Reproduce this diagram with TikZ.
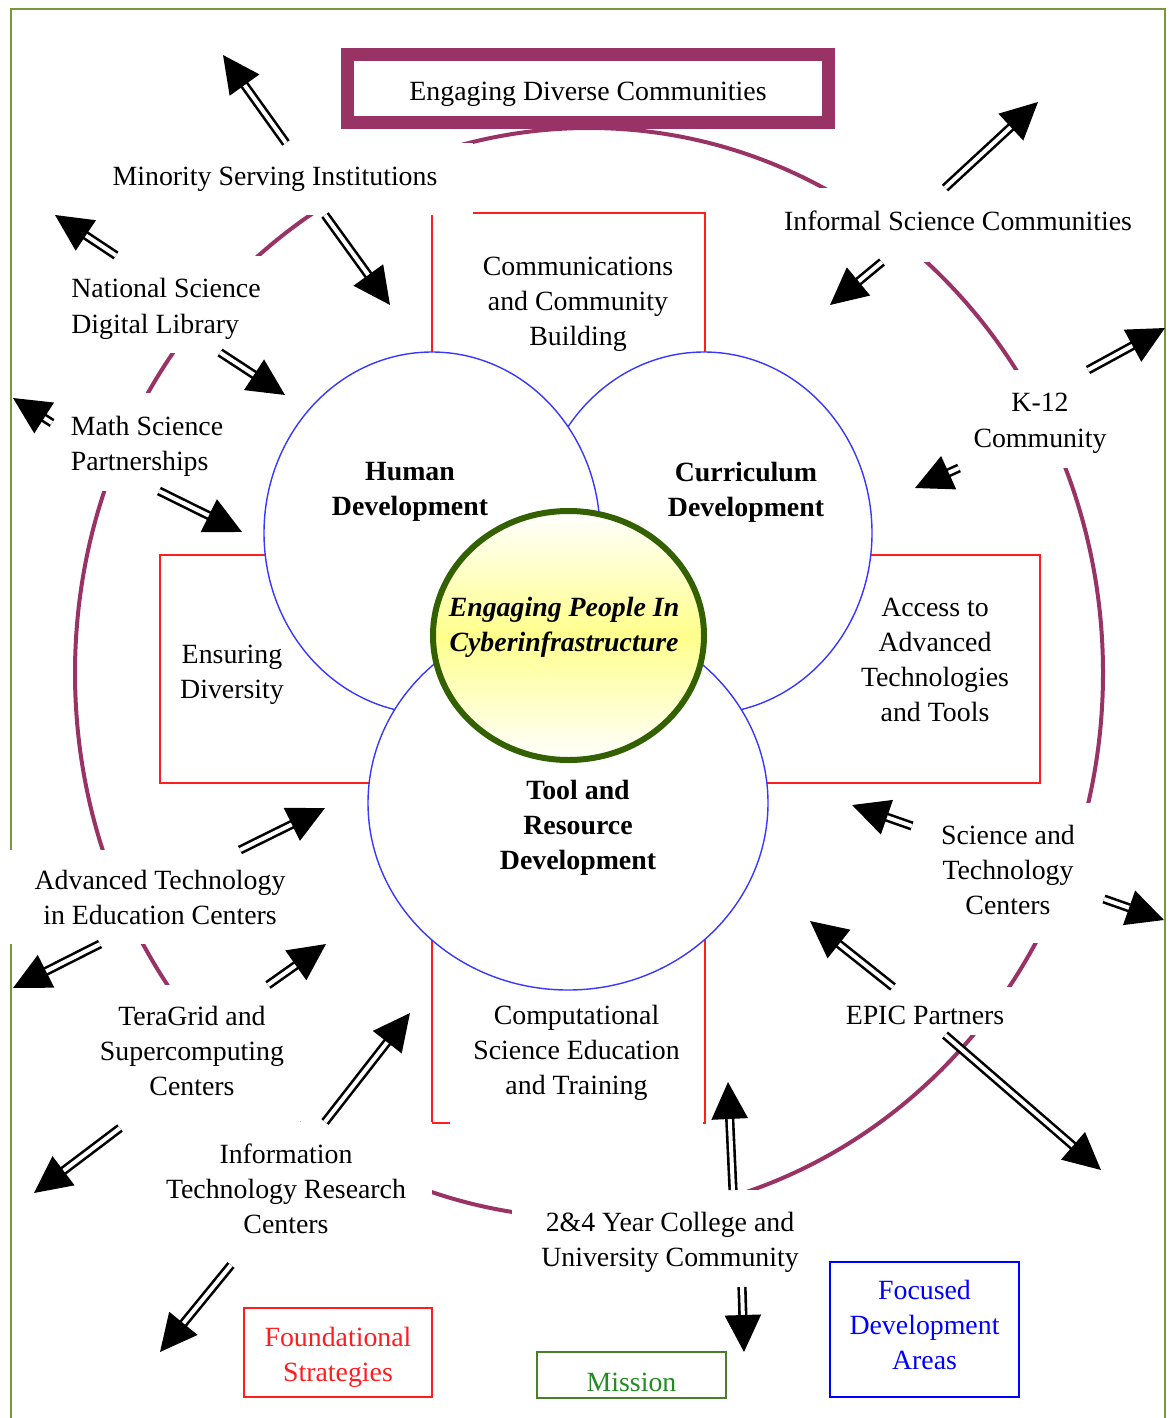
\documentclass[tikz,border=0pt]{standalone}
\usepackage{fontspec}
\setmainfont{Liberation Serif}
\usepackage{xcolor}
\usepackage{tikz}
\usetikzlibrary{shapes.geometric,arrows.meta,positioning,calc}
\definecolor{plum}{RGB}{153,51,102}
\definecolor{framegreen}{RGB}{119,150,62}
\definecolor{missiongreen}{RGB}{70,128,40}
\definecolor{misstext}{RGB}{34,139,34}
\definecolor{hubgreen}{RGB}{51,96,0}
\definecolor{hubyellow}{RGB}{255,255,140}
\definecolor{ringblue}{RGB}{55,55,255}
\definecolor{crossred}{RGB}{255,30,30}

\begin{document}
\begin{tikzpicture}[x=0.25mm,y=-0.25mm,
          every node/.style={font=\fontsize{19.8}{24.9}\selectfont,
                             inner sep=0pt,outer sep=0pt},
          wb/.style n args={2}{minimum width=#1*0.25mm,minimum height=#2*0.25mm},
          lbl/.style={fill=white,align=center},
          ring/.style={shape=ellipse,draw=ringblue,line width=0.35mm,fill=white},
          area/.style={font=\fontsize{19.8}{24.9}\selectfont\bfseries,align=center},
          leg/.style={draw,line width=0.5mm,align=center},
          dbl/.style={double=white,double distance=1mm,line width=0.65mm,
                      -{Triangle[length=9.25mm,width=9mm]}}]
        \useasboundingbox (0,0) rectangle (1168,1418);
        % frame
        \draw[framegreen,line width=0.5mm] (11,1418) -- (11,9) -- (1165,9) -- (1165,1418);
        % outer ring and cross
        \draw[plum,line width=1mm] (589,673) ellipse [x radius=514,y radius=545];
        \draw[crossred,line width=0.45mm] (432,213) -| (705,555) -| (1040,783)
              -| (705,1123) -| (432,783) -| (160,555) -| (432,555) -- cycle;
        % development areas
        \node[ring,wb={336}{362}] (cur)  at (704,533) {};
        \node[ring,wb={336}{362}] (hum)  at (432,533) {};
        \node[ring,wb={400}{374}] (tool) at (568,803) {};
        \node[shape=ellipse,draw=hubgreen,line width=1.5mm,top color=white,
              bottom color=white,middle color=hubyellow,wb={271}{249}] (hub) at (568.5,635.5) {};
        \node[area] (humt)  at (410,492) {Human\\Development};
        \node[area] (curt)  at (746,492) {Curriculum\\Development};
        \node[area,font=\fontsize{19.8}{24.9}\selectfont\bfseries\itshape] (hubt) at (564,627)
              {Engaging People In\\Cyberinfrastructure};
        \node[area] (toolt) at (578,828) {Tool and\\Resource\\Development};
        % strategies
        \node[align=center] (comm) at (578,304) {Communications\\and Community\\Building};
        \node[align=center] (ens)  at (232,675) {Ensuring\\Diversity};
        \node[align=center] (acc)  at (935,660) {Access to\\Advanced\\Technologies\\and Tools};
        \node[lbl,wb={253}{135},text depth=6.25mm] (comp) at (576.5,1062.5)
              {Computational\\Science Education\\and Training};
        % communities
        \node[lbl,wb={396}{72}]  (msi)  at (275,179)    {Minority Serving Institutions};
        \node[lbl,wb={212}{97},align=left,text height=16mm] (nsdl) at (166,304)
              {National Science\\Digital Library};
        \node[lbl,wb={190}{98},align=left,text height=15.5mm] (msp) at (147,442)
              {Math Science\\Partnerships};
        \node[lbl,wb={366}{74},text depth=2.25mm] (isc) at (958,225) {Informal Science Communities};
        \node[lbl,wb={168}{98},text height=15.5mm] (k12) at (1040,419) {K-12\\Community};
        \node[lbl,wb={192}{140},text depth=1.5mm] (stc) at (1008,873)
              {Science and\\Technology\\Centers};
        \node[lbl,wb={190}{48},text height=6.75mm] (epic) at (925,1011) {EPIC Partners};
        \node[lbl,wb={320}{94}]  (atec) at (160,897)    {Advanced Technology\\in Education Centers};
        \node[lbl,wb={216}{143},text depth=3mm] (tera) at (192,1056.5)
              {TeraGrid and\\Supercomputing\\Centers};
        \node[lbl,wb={292}{143},text depth=2.5mm] (itrc) at (286,1193.5)
              {Information\\Technology Research\\Centers};
        \node[lbl,wb={316}{97},text height=15.5mm] (col) at (670,1238.5)
              {2\&4 Year College and\\University Community};
        % arrow tips
        \coordinate (t1)  at (223,55);
        \coordinate (t2)  at (390,305);
        \coordinate (t3)  at (55,215);
        \coordinate (t4)  at (285,395);
        \coordinate (t5)  at (13,398);
        \coordinate (t6)  at (242,532);
        \coordinate (t7)  at (1038,102);
        \coordinate (t8)  at (830,305);
        \coordinate (t9)  at (1165,328);
        \coordinate (t10) at (915,488);
        \coordinate (t11) at (852,805);
        \coordinate (t12) at (1164,920);
        \coordinate (t13) at (810,921);
        \coordinate (t14) at (1101,1170);
        \coordinate (t15) at (325,808);
        \coordinate (t16) at (13,988);
        \coordinate (t17) at (326,944);
        \coordinate (t18) at (34,1193);
        \coordinate (t19) at (410,1013);
        \coordinate (t20) at (160,1352);
        \coordinate (t21) at (728,1082);
        \coordinate (t22) at (744,1352);
        % arrows
        \draw[dbl] ($(msi.north)+(11,0)$)  -- (t1);
        \draw[dbl] ($(msi.south)+(50,0)$)  -- (t2);
        \draw[dbl] ($(nsdl.north)+(-50,0)$) -- (t3);
        \draw[dbl] ($(nsdl.south)+(54,0)$) -- (t4);
        \draw[dbl] ($(msp.west)+(0,-19)$)  -- (t5);
        \draw[dbl] ($(msp.south)+(12,0)$)  -- (t6);
        \draw[dbl] ($(isc.north)+(-13,0)$) -- (t7);
        \draw[dbl] ($(isc.south)+(-76,0)$) -- (t8);
        \draw[dbl] ($(k12.north)+(48,0)$)  -- (t9);
        \draw[dbl] ($(k12.south)+(-81,0)$) -- (t10);
        \draw[dbl] ($(stc.west)+(0,-47)$)  -- (t11);
        \draw[dbl] ($(stc.east)+(0,26)$)   -- (t12);
        \draw[dbl] ($(epic.north)+(-32,0)$) -- (t13);
        \draw[dbl] ($(epic.south)+(20,0)$) -- (t14);
        \draw[dbl] ($(atec.north)+(80,0)$) -- (t15);
        \draw[dbl] ($(atec.south)+(-60,0)$) -- (t16);
        \draw[dbl] ($(tera.north)+(76,0)$) -- (t17);
        \draw[dbl] ($(tera.south)+(-72,0)$) -- (t18);
        \draw[dbl] ($(itrc.north)+(39,0)$) -- (t19);
        \draw[dbl] ($(itrc.south)+(-55,0)$) -- (t20);
        \draw[dbl] ($(col.north)+(63,0)$)  -- (t21);
        \draw[dbl] ($(col.south)+(72,0)$)  -- (t22);
        % title and legend
        \node[draw=plum,line width=3.25mm,fill=white,wb={481}{68},
              text height=5.75mm,text depth=0pt] (edc) at (588,88.5)
              {Engaging Diverse Communities};
        \node[leg,draw=crossred,text=crossred,wb={188}{89},text height=16mm] (fnd) at (338,1352.5)
              {Foundational\\Strategies};
        \node[leg,draw=missiongreen,text=misstext,wb={189}{46},
              text height=8mm,text depth=0pt] (mis) at (631.5,1375) {Mission};
        \node[leg,draw=blue,text=blue,wb={189}{135},text depth=2.5mm] (fda) at (924.5,1329.5)
              {Focused\\Development\\Areas};
      \end{tikzpicture}
\end{document}
